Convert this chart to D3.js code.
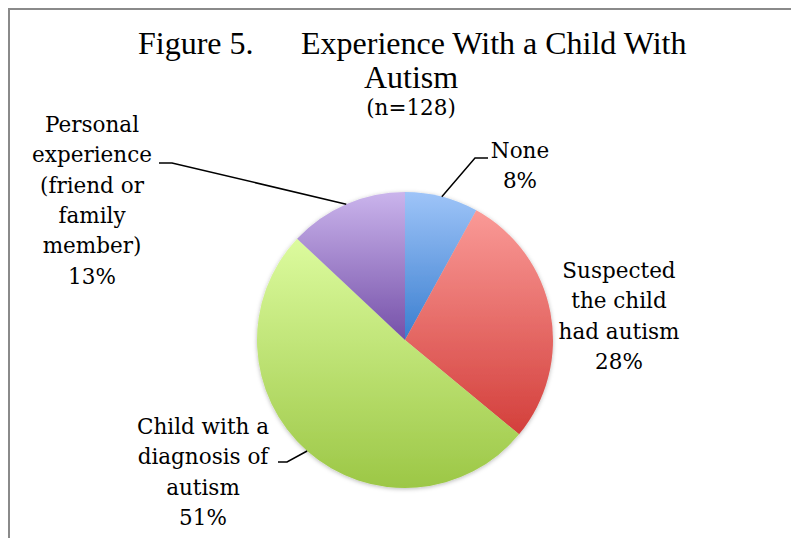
<!DOCTYPE html>
<html>
<head>
<meta charset="utf-8">
<script src="https://cdn.jsdelivr.net/npm/d3@7"></script>
<style>
  html, body { margin: 0; padding: 0; background: #fff; }
  svg { display: block; }
</style>
</head>
<body>
<svg id="chart" width="791" height="538"></svg>
<script>
// ---- data ----
const categories = [
  "None",
  "Suspected the child had autism",
  "Child with a diagnosis of autism",
  "Personal experience (friend or family member)"
];
const values = [8, 28, 51, 13];
// category names broken into the lines shown beside each slice
const labelLines = [
  ["None"],
  ["Suspected", "the child", "had autism"],
  ["Child with a", "diagnosis of", "autism"],
  ["Personal", "experience", "(friend or", "family", "member)"]
];
const titleLeft = "Figure 5.";
const titleRight = "Experience With a Child With";
const titleLine2 = "Autism";
const subtitle = "(n=128)";

// ---- styling / layout ----
const sliceGradients = [
  ["#9ec4f8", "#3a7ecf"],
  ["#fa9a97", "#d33f3b"],
  ["#dcfb9e", "#9cc746"],
  ["#cab4ec", "#7550a8"]
];
const labelFont = "'DejaVu Serif', serif";
const titleFont = "'Liberation Serif', 'Times New Roman', serif";
const lineGap = 30.3;
// label block: centre x, first baseline y, and leader elbow/end (null = no leader)
const labelLayout = [
  { x: 520, y: 158, leader: { elbow: [475, 158], end: [488, 158] } },
  { x: 619, y: 278, leader: null },
  { x: 203, y: 434, leader: { elbow: [287, 462], end: [278, 462] } },
  { x: 92,  y: 132, leader: { elbow: [172, 163], end: [159, 163] } }
];

const W = 791, H = 538;
const cx = 405, cy = 340, R = 148;

const svg = d3.select("#chart");
const defs = svg.append("defs");

// chart frame
svg.append("path")
  .attr("d", `M9,${H + 5} L9,9 L${W + 5},9`)
  .attr("fill", "none")
  .attr("stroke", "#8a8a8a")
  .attr("stroke-width", 2);

// soft shadow under the pie
const shadow = defs.append("filter").attr("id", "pieShadow")
  .attr("x", "-10%").attr("y", "-10%").attr("width", "120%").attr("height", "120%");
shadow.append("feDropShadow")
  .attr("dx", 0).attr("dy", 1).attr("stdDeviation", 2.2)
  .attr("flood-color", "#000").attr("flood-opacity", 0.28);

sliceGradients.forEach((g, i) => {
  const lg = defs.append("linearGradient").attr("id", "grad" + i)
    .attr("x1", 0).attr("y1", 0).attr("x2", 0).attr("y2", 1);
  lg.append("stop").attr("offset", "0%").attr("stop-color", g[0]);
  lg.append("stop").attr("offset", "100%").attr("stop-color", g[1]);
});

const pie = d3.pie().sort(null).value(d => d);
const arcs = pie(values);
const arc = d3.arc().innerRadius(0).outerRadius(R);

const pieG = svg.append("g")
  .attr("transform", `translate(${cx},${cy})`)
  .attr("filter", "url(#pieShadow)");

pieG.selectAll("path.slice")
  .data(arcs)
  .join("path")
  .attr("class", "slice")
  .attr("d", arc)
  .attr("fill", (d, i) => `url(#grad${i})`);

// leader lines from each slice's mid-angle on the rim
arcs.forEach((a, i) => {
  const L = labelLayout[i].leader;
  if (!L) return;
  const mid = (a.startAngle + a.endAngle) / 2;
  const px = cx + R * Math.sin(mid);
  const py = cy - R * Math.cos(mid);
  svg.append("path")
    .attr("d", d3.line()([[px, py], L.elbow, L.end]))
    .attr("fill", "none")
    .attr("stroke", "#000")
    .attr("stroke-width", 1.5);
});

// labels
arcs.forEach((a, i) => {
  const lay = labelLayout[i];
  const lines = labelLines[i].concat([`${values[i]}%`]);
  const t = svg.append("text")
    .attr("text-anchor", "middle")
    .attr("font-family", labelFont)
    .attr("font-size", 21.5)
    .attr("fill", "#000");
  lines.forEach((s, k) => {
    t.append("tspan").attr("x", lay.x).attr("y", lay.y + k * lineGap).text(s);
  });
});

// title
svg.append("text")
  .attr("x", 138).attr("y", 54)
  .attr("text-anchor", "start")
  .attr("font-family", titleFont).attr("font-size", 32)
  .text(titleLeft);
svg.append("text")
  .attr("x", 301).attr("y", 54)
  .attr("text-anchor", "start")
  .attr("font-family", titleFont).attr("font-size", 32)
  .text(titleRight);
svg.append("text")
  .attr("x", 411).attr("y", 88)
  .attr("text-anchor", "middle")
  .attr("font-family", titleFont).attr("font-size", 32)
  .text(titleLine2);
svg.append("text")
  .attr("x", 411).attr("y", 115)
  .attr("text-anchor", "middle")
  .attr("font-family", labelFont).attr("font-size", 21.5)
  .text(subtitle);
</script>
</body>
</html>
